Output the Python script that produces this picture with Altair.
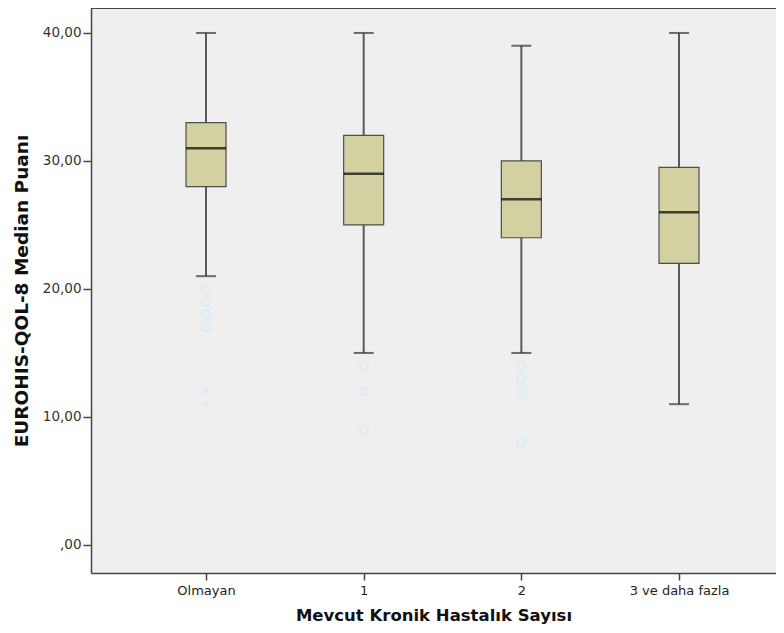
import altair as alt
import pandas as pd

categories = ["Olmayan", "1", "2", "3 ve daha fazla"]
whisker_low = [21, 15, 15, 11]
q1 = [28, 25, 24, 22]
median = [31, 29, 27, 26]
q3 = [33, 32, 30, 29.5]
whisker_high = [40, 40, 39, 40]

outlier_cat = ["Olmayan", "Olmayan", "Olmayan", "Olmayan", "1", "1", "1", "2", "2", "2", "2"]
outlier_val = [20, 19, 18, 17, 14, 12, 9, 14, 13, 12, 8]
extreme_cat = ["Olmayan", "Olmayan"]
extreme_val = [12, 11]

y_ticks = [0, 10, 20, 30, 40]

box_df = pd.DataFrame({
    "cat": categories, "lo": whisker_low, "q1": q1, "med": median, "q3": q3, "hi": whisker_high
})
out_df = pd.DataFrame({"cat": outlier_cat, "v": outlier_val})
ext_df = pd.DataFrame({"cat": extreme_cat, "v": extreme_val})

W, H = 685, 565
FONT = "DejaVu Sans"

x_enc = alt.X("cat:N", sort=categories,
              scale=alt.Scale(type="point", padding=0.6723, align=0.5425),
              axis=alt.Axis(title="Mevcut Kronik Hastalık Sayısı", labelAngle=0,
                            domainColor="#444444", domainWidth=1.5,
                            tickColor="#444444", tickSize=7, tickWidth=1.5,
                            labelFont=FONT, labelFontSize=13, labelColor="#222222",
                            labelPadding=4, titleFont=FONT, titleFontSize=16.5,
                            titleFontWeight="bold", titleColor="#111111",
                            titlePadding=10))
y_scale = alt.Scale(domain=[-2.19, 41.95], nice=False, zero=False)
y_axis = alt.Axis(title="EUROHIS-QOL-8 Median Puanı", values=y_ticks, grid=False,
                  labelExpr="datum.value == 0 ? ',00' : replace(format(datum.value, '.2f'), '.', ',')",
                  domainColor="#444444", domainWidth=1.5,
                  tickColor="#444444", tickSize=8, tickWidth=1.5,
                  labelFont=FONT, labelFontSize=13.5, labelColor="#333333", labelPadding=2,
                  titleFont=FONT, titleFontSize=18.5, titleFontWeight="bold",
                  titleColor="#111111", titlePadding=11)

base = alt.Chart(box_df)

whisk_lo = base.mark_rule(color="#5a5a5a", strokeWidth=2).encode(
    x=x_enc, y=alt.Y("lo:Q", scale=y_scale, axis=y_axis), y2="q1:Q")
whisk_hi = base.mark_rule(color="#5a5a5a", strokeWidth=2).encode(
    x=alt.X("cat:N", sort=categories), y=alt.Y("q3:Q"), y2="hi:Q")
cap_lo = base.mark_tick(color="#333333", size=20, thickness=2).encode(
    x=alt.X("cat:N", sort=categories), y=alt.Y("lo:Q"))
cap_hi = base.mark_tick(color="#333333", size=20, thickness=2).encode(
    x=alt.X("cat:N", sort=categories), y=alt.Y("hi:Q"))
box = base.mark_bar(size=40, color="#d3d0a2", stroke="#4d4d4d", strokeWidth=1.2).encode(
    x=alt.X("cat:N", sort=categories), y=alt.Y("q1:Q"), y2="q3:Q")
med = base.mark_tick(color="#000000", size=40, thickness=2.5).encode(
    x=alt.X("cat:N", sort=categories), y=alt.Y("med:Q"))
outs = alt.Chart(out_df).mark_point(shape="circle", filled=False, size=70,
                                    color="#dcebf8", strokeWidth=2, opacity=1).encode(
    x=alt.X("cat:N", sort=categories), y=alt.Y("v:Q"))
exts = alt.Chart(ext_df).mark_point(
    shape="M0,-1L0,1M-0.87,-0.5L0.87,0.5M-0.87,0.5L0.87,-0.5",
    filled=False, size=50, color="#dcebf8", strokeWidth=2, opacity=1).encode(
    x=alt.X("cat:N", sort=categories), y=alt.Y("v:Q"))
top_line = base.mark_rule(color="#444444", strokeWidth=1.5).encode(
    x=alt.value(0), x2=alt.value(W), y=alt.value(0))

chart = alt.layer(whisk_lo, whisk_hi, cap_lo, cap_hi, box, med, outs, exts, top_line).properties(
    width=W, height=H,
    autosize=alt.AutoSizeParams(type="none"),
    padding={"left": 83, "top": 0, "right": 0, "bottom": 52},
    background="#ffffff",
).configure_view(fill="#eeefee", stroke=None)

chart.save("out.html", embed_options={"renderer": "svg", "actions": False})
